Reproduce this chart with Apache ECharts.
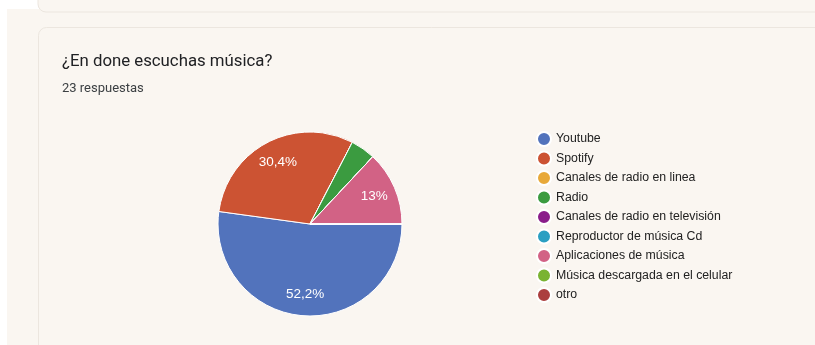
<!DOCTYPE html>
<html>
<head>
<meta charset="utf-8">
<script src="https://cdn.jsdelivr.net/npm/echarts@6/dist/echarts.min.js"></script>
<style>
html,body{margin:0;padding:0;background:#ffffff;}
#c{width:815px;height:345px;}
</style>
</head>
<body>
<div id="c"></div>
<script>
const titleText = '¿En done escuchas música?';
const subtitleText = '23 respuestas';
const categories = ['Youtube','Spotify','Canales de radio en linea','Radio','Canales de radio en televisión','Reproductor de música Cd','Aplicaciones de música','Música descargada en el celular','otro'];
const counts = [12, 7, 0, 1, 0, 0, 3, 0, 0];
const colors = ['#5273bc','#cc5333','#e8a93a','#3b9b40','#8a1d8a','#2b9fc2','#d26285','#7ab332','#ab3e3e'];

const total = counts.reduce((a,b)=>a+b,0);
const pieData = categories.map((n,i)=>({name:n, value:counts[i], itemStyle:{color:colors[i]}}));
const labelData = categories.map((n,i)=>({name:n, value:counts[i]}));

const chart = echarts.init(document.getElementById('c'), null, {renderer:'canvas'});
chart.setOption({
  animation:false,
  backgroundColor:'#ffffff',
  graphic:[
    {type:'rect', z:-10, shape:{x:7,y:9,width:808,height:336}, style:{fill:'#faf6f1'}},
    {type:'rect', z:-9, shape:{x:38,y:-30,width:800,height:42,r:8}, style:{fill:'#faf6f1',stroke:'#ece6df',lineWidth:1}},
    {type:'rect', z:-9, shape:{x:38.5,y:27.5,width:800,height:340,r:8}, style:{fill:'#faf6f1',stroke:'#ece6df',lineWidth:1}}
  ],
  title:[
    {text:titleText, left:62, top:53, padding:0, textStyle:{fontFamily:'Roboto',fontSize:16.8,fontWeight:'normal',color:'#202124'}},
    {text:subtitleText, left:62, top:82, padding:0, textStyle:{fontFamily:'Roboto',fontSize:13,fontWeight:'normal',color:'#3c4043'}}
  ],
  legend:{
    orient:'vertical', left:536, top:131, padding:0, itemWidth:14, itemHeight:14, itemGap:3.5,
    icon:'circle', selectedMode:false, data:categories,
    textStyle:{fontFamily:'Liberation Sans, Arial',fontSize:12.3,color:'#222222',padding:[0,0,0,0]}
  },
  series:[
    {
      type:'pie', name:'main', center:[310,224], radius:[0,92], startAngle:0, clockwise:true,
      minAngle:0, avoidLabelOverlap:false, silent:true,
      itemStyle:{borderColor:'#ffffff',borderWidth:1},
      label:{show:false}, labelLine:{show:false}, emphasis:{disabled:true},
      data:pieData
    },
    {
      type:'pie', name:'labels', center:[310,224], radius:[0,134], startAngle:0, clockwise:true,
      avoidLabelOverlap:false, silent:true, z:5,
      itemStyle:{color:'rgba(0,0,0,0)',borderWidth:0},
      label:{show:true, position:'inside', color:'#ffffff', fontFamily:'Liberation Sans, Arial', fontSize:13.5,
        formatter:function(p){
          const pct = p.value/total*100;
          if (pct < 5) return '';
          return Number(pct.toFixed(1)).toString().replace('.',',') + '%';
        }},
      labelLine:{show:false}, emphasis:{disabled:true},
      data:labelData
    }
  ]
});
</script>
</body>
</html>
